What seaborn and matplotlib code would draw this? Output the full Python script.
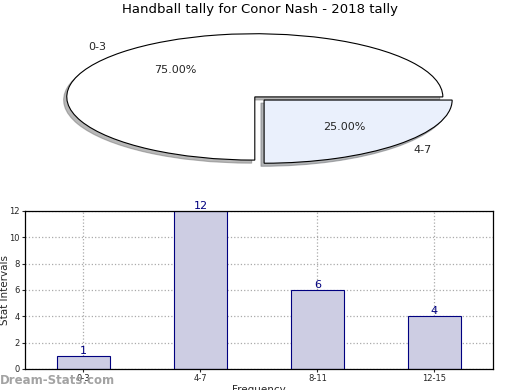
import matplotlib
matplotlib.use('Agg')
import matplotlib.pyplot as plt
import seaborn as sns
import pandas as pd

# pie data
pie_labels = ['0-3', '4-7']
pie_shares = [75, 25]
pie_colors = ['white', '#eaf0fc']

# bar data
bins = ['0-3', '4-7', '8-11', '12-15']
counts = [1, 12, 6, 4]

sns.set_style('white')
plt.rcParams['font.family'] = ['DejaVu Sans']

fig = plt.figure(figsize=(5.2, 3.9), dpi=100)

# Pie
ax1 = fig.add_axes([0.038, 0.549, 0.904, 0.405])
wedges, texts, autotexts = ax1.pie(pie_shares, labels=pie_labels, colors=pie_colors,
                                   explode=[0, 0.07], startangle=0,
                                   shadow={'ox': -0.012, 'oy': -0.035, 'shade': 0.55},
                                   autopct='%.2f%%', pctdistance=0.6, labeldistance=1.12,
                                   wedgeprops={'edgecolor': 'black', 'linewidth': 0.8},
                                   textprops={'fontsize': 8})
ax1.set_aspect('auto')
ax1.set_xlim(-1.25, 1.25)
ax1.set_ylim(-1.25, 1.25)
fig.text(0.5, 0.975, 'Handball tally for Conor Nash - 2018 tally', ha='center', va='center',
         fontsize=9.5, color='black')

# Bars
ax2 = fig.add_axes([0.048, 0.054, 0.9, 0.405])
df = pd.DataFrame({'bin': bins, 'count': counts})
sns.barplot(data=df, x='bin', y='count', ax=ax2, color='#cdcde3', saturation=1,
            edgecolor='navy', linewidth=0.8, width=0.45)
ax2.set_xlim(-0.5, 3.5)
ax2.set_ylim(0, 12)
ax2.set_yticks(range(0, 13, 2))
ax2.grid(True, linestyle=':', color='#aaaaaa', linewidth=0.9)
ax2.set_axisbelow(True)
for s in ax2.spines.values():
    s.set_color('black')
    s.set_linewidth(0.9)
ax2.tick_params(labelsize=6, length=2, pad=2, direction='out', left=True, bottom=True)
for i, v in enumerate(counts):
    ax2.text(i, v, str(v), ha='center', va='bottom', color='navy', fontsize=8)
ax2.set_ylabel('Stat Intervals', fontsize=7.5)
ax2.yaxis.set_label_coords(-0.031, 0.5)
ax2.set_xlabel('Frequency', fontsize=7.5, labelpad=1)

fig.text(0.0, 0.025, 'Dream-Stats.com', color='#999999', fontsize=8.5, fontweight='semibold',
         ha='left', va='center', alpha=0.9)

fig.savefig('out.png', dpi=100)
